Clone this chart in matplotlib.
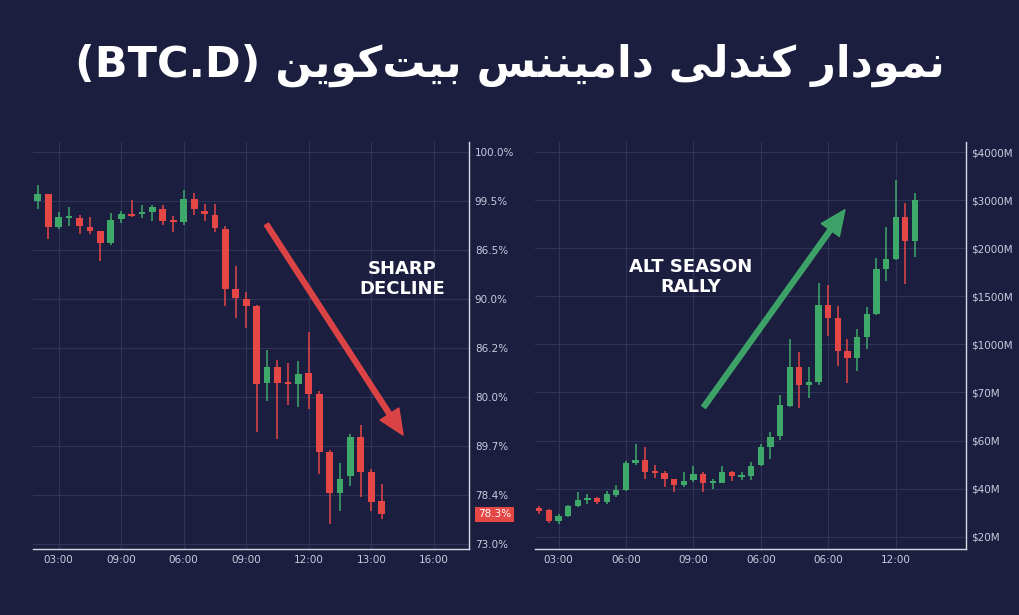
import matplotlib.pyplot as plt
import numpy as np

BG = '#1b1e3e'
GRID = '#2f3459'
GREEN = '#3fa96a'
RED = '#e54646'
TXT = '#c9ccdf'

# title (Persian, written in visual order with Arabic presentation forms)
title = ('(BTC.D) '
         '\uFEE6\uFBFE\uFEEE\uFB90\uFE96\uFBFF\uFE91 '
         '\uFEB2\uFEE8\uFEE8\uFBFF\uFEE3\uFE8D\uFEA9 '
         '\uFBFD\uFEDF\uFEAA\uFEE8\uFB90 '
         '\uFEAD\uFE8D\uFEA9\uFEEE\uFEE4\uFEE7')

# left panel: BTC dominance (y in grid-row units, 0 = bottom tick)
l_open = [6.99, 7.14, 6.46, 6.66, 6.66, 6.46, 6.39, 6.14, 6.63, 6.73, 6.73, 6.78, 6.83, 6.61, 6.58, 7.04, 6.80,
          6.71, 6.42, 5.20, 5.01, 4.86, 3.28, 3.62, 3.31, 3.27, 3.50, 3.06, 1.88, 1.05, 1.39, 2.19, 1.48, 0.88]
l_close = [7.14, 6.46, 6.67, 6.69, 6.49, 6.39, 6.14, 6.61, 6.73, 6.70, 6.78, 6.87, 6.60, 6.57, 7.04, 6.84, 6.73,
           6.44, 5.20, 5.03, 4.86, 3.27, 3.62, 3.29, 3.26, 3.48, 3.06, 1.88, 1.05, 1.34, 2.19, 1.48, 0.86, 0.61]
l_high = [7.33, 7.14, 6.78, 6.88, 6.71, 6.68, 6.39, 6.75, 6.80, 7.02, 6.92, 6.92, 6.92, 6.69, 7.22, 7.17, 6.93,
          6.94, 6.48, 5.67, 5.15, 4.88, 3.96, 3.76, 3.70, 3.74, 4.33, 3.13, 1.92, 1.65, 2.24, 2.43, 1.54, 1.22]
l_low = [6.83, 6.22, 6.42, 6.49, 6.32, 6.32, 5.78, 6.10, 6.54, 6.68, 6.65, 6.59, 6.51, 6.37, 6.51, 6.71, 6.59,
         6.36, 4.86, 4.61, 4.40, 2.29, 2.93, 2.14, 2.84, 2.79, 2.75, 1.44, 0.42, 0.68, 1.18, 0.97, 0.68, 0.52]
l_yticks = ['73.0%', '78.4%', '89.7%', '80.0%', '86.2%', '90.0%', '86.5%', '99.5%', '100.0%']
l_xticks = ['03:00', '09:00', '06:00', '09:00', '12:00', '13:00', '16:00']
l_last = 0.61
l_last_label = '78.3%'

# right panel: altcoin market
r_open = [0.60, 0.55, 0.33, 0.44, 0.64, 0.76, 0.80, 0.73, 0.87, 0.97, 1.53, 1.59, 1.35, 1.33, 1.19, 1.07, 1.18,
          1.30, 1.11, 1.12, 1.35, 1.25, 1.26, 1.49, 1.86, 2.09, 2.72, 3.54, 3.15, 3.22, 4.82, 4.54, 3.87, 3.71,
          4.15, 4.63, 5.57, 5.77, 6.66, 6.15]
r_close = [0.54, 0.33, 0.44, 0.64, 0.76, 0.80, 0.73, 0.88, 0.97, 1.54, 1.59, 1.35, 1.32, 1.19, 1.07, 1.16, 1.30,
           1.11, 1.14, 1.35, 1.26, 1.28, 1.47, 1.86, 2.08, 2.74, 3.54, 3.15, 3.22, 4.82, 4.54, 3.87, 3.71, 4.15,
           4.63, 5.57, 5.77, 6.66, 6.15, 7.00]
r_high = [0.64, 0.58, 0.47, 0.66, 0.94, 0.88, 0.82, 0.96, 1.07, 1.58, 1.93, 1.86, 1.49, 1.37, 1.21, 1.35, 1.48,
          1.34, 1.21, 1.47, 1.37, 1.35, 1.55, 1.93, 2.17, 2.95, 4.12, 3.85, 3.54, 5.27, 5.23, 4.80, 4.12, 4.33,
          4.78, 5.79, 6.45, 7.43, 6.95, 7.16]
r_low = [0.47, 0.29, 0.26, 0.42, 0.61, 0.69, 0.68, 0.69, 0.82, 0.96, 1.49, 1.21, 1.23, 1.03, 0.94, 1.04, 1.14,
         0.94, 0.99, 1.11, 1.16, 1.18, 1.18, 1.47, 1.62, 2.01, 2.69, 2.67, 2.88, 3.15, 4.17, 3.55, 3.20, 3.45,
         3.90, 4.61, 5.32, 5.75, 5.25, 5.82]
r_yticks = ['$20M', '$40M', '$60M', '$70M', '$1000M', '$1500M', '$2000M', '$3000M', '$4000M']
r_xticks = ['03:00', '06:00', '09:00', '06:00', '06:00', '12:00']

fig = plt.figure(figsize=(10.2, 6.15), dpi=100, facecolor=BG)
fig.text(0.5, 0.893, title, ha='center', va='center', color='white', fontsize=31, fontweight='bold',
         family=['DejaVu Sans'])


def candles(ax, o, c, h, l, width):
    x = np.arange(len(o))
    o, c, h, l = map(np.asarray, (o, c, h, l))
    cols = np.where(c >= o, GREEN, RED)
    ax.vlines(x, l, h, colors=cols, lw=1.1, zorder=3)
    body = np.maximum(np.abs(c - o), 0.04)
    ax.bar(x, body, bottom=np.minimum(o, c), width=width, color=cols, zorder=4)


def style(ax, ylabels, xticks, xlabels, xlim, ylim):
    ax.set_facecolor(BG)
    ax.set_xlim(*xlim)
    ax.set_ylim(*ylim)
    ax.set_yticks(range(len(ylabels)))
    ax.set_yticklabels(ylabels)
    ax.set_xticks(xticks)
    ax.set_xticklabels(xlabels)
    ax.yaxis.tick_right()
    ax.tick_params(colors=TXT, labelsize=7.5, length=0, pad=4)
    ax.grid(True, color=GRID, lw=0.8, zorder=0)
    for s in ['top', 'left']:
        ax.spines[s].set_visible(False)
    for s in ['right', 'bottom']:
        ax.spines[s].set_color('#d8dae6')
        ax.spines[s].set_linewidth(1.0)


ax1 = fig.add_axes([0.032, 0.107, 0.428, 0.662])
candles(ax1, l_open, l_close, l_high, l_low, 0.65)
style(ax1, l_yticks, [2, 8, 14, 20, 26, 32, 38], l_xticks, (-0.5, 41.4), (-0.1, 8.2))
ax1.text(1.02, l_last, l_last_label, transform=ax1.get_yaxis_transform(), color='white', fontsize=7.5,
         va='center', ha='left', bbox=dict(boxstyle='square,pad=0.25', fc=RED, ec='none'))
ax1.annotate('', xy=(35.2, 2.18), xytext=(21.8, 6.57),
             arrowprops=dict(arrowstyle='simple,head_length=1.8,head_width=1.6,tail_width=0.35',
                             fc=RED, ec=RED, alpha=0.95))
ax1.text(35.0, 5.4, 'SHARP\nDECLINE', color='white', fontsize=13, fontweight='bold', ha='center',
         va='center', linespacing=1.15)

ax2 = fig.add_axes([0.5245, 0.107, 0.4225, 0.662])
candles(ax2, r_open, r_close, r_high, r_low, 0.65)
style(ax2, r_yticks, [2, 9, 16, 23, 30, 37], r_xticks, (-0.45, 44.3), (-0.26, 8.21))
ax2.annotate('', xy=(31.9, 6.85), xytext=(16.9, 2.65),
             arrowprops=dict(arrowstyle='simple,head_length=1.8,head_width=1.6,tail_width=0.35',
                             fc=GREEN, ec=GREEN, alpha=0.95))
ax2.text(15.7, 5.4, 'ALT SEASON\nRALLY', color='white', fontsize=13, fontweight='bold', ha='center',
         va='center', linespacing=1.15)

fig.savefig('out.png', dpi=100, facecolor=BG)
